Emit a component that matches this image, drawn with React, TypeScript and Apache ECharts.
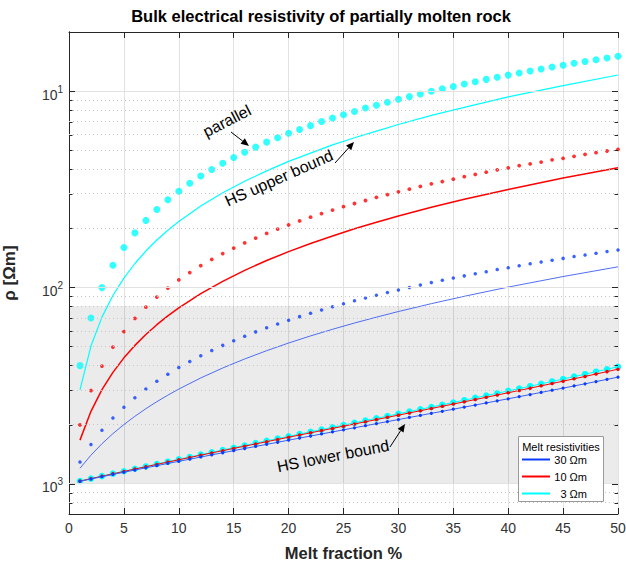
import React, { useEffect, useRef } from 'react';
import * as echarts from 'echarts';

// ---------- data ----------
const meltFraction = [1, 2, 3, 4, 5, 6, 7, 8, 9, 10, 11, 12, 13, 14, 15, 16, 17, 18, 19, 20, 21, 22, 23, 24, 25, 26, 27, 28, 29, 30, 31, 32, 33, 34, 35, 36, 37, 38, 39, 40, 41, 42, 43, 44, 45, 46, 47, 48, 49, 50];

const parallel30 = [775.2, 632.9, 534.8, 463.0, 408.2, 365.0, 330.0, 301.2, 277.0, 256.4, 238.7, 223.2, 209.6, 197.6, 186.9, 177.3, 168.6, 160.8, 153.6, 147.1, 141.0, 135.5, 130.4, 125.6, 121.2, 117.1, 113.3, 109.6, 106.3, 103.1, 100.1, 97.3, 94.6, 92.1, 89.7, 87.4, 85.3, 83.2, 81.2, 79.4, 77.6, 75.9, 74.2, 72.7, 71.2, 69.7, 68.4, 67.0, 65.7, 64.5];
const parallel10 = [502.5, 335.6, 251.9, 201.6, 168.1, 144.1, 126.1, 112.1, 100.9, 91.7, 84.1, 77.6, 72.1, 67.3, 63.1, 59.4, 56.1, 53.1, 50.5, 48.1, 45.9, 43.9, 42.1, 40.4, 38.8, 37.4, 36.1, 34.8, 33.7, 32.6, 31.6, 30.6, 29.7, 28.9, 28.1, 27.3, 26.6, 25.9, 25.2, 24.6, 24.0, 23.5, 23.0, 22.4, 22.0, 21.5, 21.0, 20.6, 20.2, 19.8];
const parallel3 = [250.6, 143.3, 100.3, 77.2, 62.7, 52.8, 45.6, 40.1, 35.8, 32.4, 29.5, 27.1, 25.1, 23.3, 21.8, 20.5, 19.3, 18.2, 17.3, 16.4, 15.7, 15.0, 14.3, 13.7, 13.2, 12.7, 12.2, 11.8, 11.4, 11.0, 10.67, 10.34, 10.03, 9.74, 9.47, 9.20, 8.96, 8.72, 8.50, 8.29, 8.09, 7.90, 7.72, 7.54, 7.38, 7.22, 7.07, 6.92, 6.78, 6.64];

const hsLower30 = [973.3, 947.5, 922.6, 898.6, 875.3, 852.9, 831.1, 810.0, 789.7, 769.8, 750.7, 732.0, 713.9, 696.4, 679.4, 662.8, 646.7, 631.0, 615.8, 600.9, 586.3, 572.4, 558.7, 545.3, 532.2, 519.5, 507.1, 494.9, 483.2, 471.7, 460.4, 449.4, 438.6, 428.3, 417.8, 407.7, 397.9, 388.2, 378.8, 369.6, 360.6, 351.7, 343.1, 334.5, 326.2, 318.0, 310.1, 302.1, 294.4, 286.8];
const hsLower10 = [971.4, 943.9, 917.5, 891.9, 867.3, 843.5, 820.6, 798.4, 776.9, 756.2, 736.0, 716.6, 697.7, 679.5, 661.7, 644.5, 627.8, 611.6, 595.8, 580.5, 565.6, 551.1, 537.0, 523.3, 509.9, 496.9, 484.2, 471.8, 459.7, 447.9, 436.5, 425.3, 414.3, 403.6, 393.2, 383.0, 373.0, 363.2, 353.7, 344.4, 335.2, 326.3, 317.6, 309.0, 300.6, 292.4, 284.4, 276.5, 268.8, 261.2];
const hsLower3 = [970.9, 942.9, 915.9, 889.9, 864.9, 840.7, 817.4, 794.9, 773.1, 752.1, 731.7, 712.0, 692.9, 674.4, 656.5, 639.1, 622.2, 605.9, 589.9, 574.5, 559.5, 544.9, 530.6, 516.8, 503.3, 490.2, 477.4, 465.0, 452.8, 441.0, 429.4, 418.2, 407.2, 396.5, 386.0, 375.8, 365.8, 356.0, 346.4, 337.0, 327.9, 318.9, 310.2, 301.6, 293.2, 285.0, 277.0, 269.0, 261.4, 253.7];

const hsUpperFraction = [1, 2, 3, 4, 5, 6, 7, 8, 9, 10, 12, 14, 16, 18, 20, 22, 24, 26, 28, 30, 33, 36, 40, 45, 50];
const hsUpper30 = [835.1, 716.3, 626.6, 556.5, 500.3, 454.0, 415.3, 382.5, 354.4, 329.9, 289.5, 257.6, 231.7, 210.3, 192.2, 176.8, 163.6, 152.0, 141.9, 132.8, 121.1, 111.1, 99.7, 88.1, 78.6];
const hsUpper10 = [600.4, 428.3, 332.3, 271.1, 228.7, 197.6, 173.8, 155.0, 139.8, 127.2, 107.7, 93.2, 81.9, 73.0, 65.8, 59.8, 54.7, 50.3, 46.6, 43.3, 39.1, 35.6, 31.7, 27.7, 24.6];
const hsUpper3 = [333.0, 199.2, 141.8, 110.0, 89.7, 75.6, 65.3, 57.4, 51.2, 46.2, 38.5, 33.0, 28.8, 25.5, 22.8, 20.7, 18.8, 17.3, 16.0, 14.8, 13.3, 12.1, 10.7, 9.38, 8.28];

const meltLabels = ['30 Ωm', '10 Ωm', '3 Ωm'];
const yMajorTicks = [10, 100, 1000];
const yMinorTicks = [11.11, 12.5, 14.29, 16.67, 20, 25, 33.33, 50, 111.1, 125, 142.9, 166.7, 200, 250, 333.3, 500, 1111, 1250];
const shadeRange = [125, 1000];
const yRange = [5, 1428.57];
const xRange = [0, 50];

// ---------- style ----------
const FONT = '"Liberation Sans", Arial, Helvetica, sans-serif';
const BLUE = '#0a3cff';
const BLUE_LINE = '#3b5ff5';
const RED = '#ff0000';
const CYAN = '#00ffff';
const AXIS = '#262626';
const TICK_TEXT = '#333333';
const GRID = '#e2e2e2';

const pair = (xs: number[], ys: number[]) => xs.map((x, i) => [x, ys[i]]);

function arrow(x1: number, y1: number, x2: number, y2: number) {
  const dx = x2 - x1, dy = y2 - y1;
  const len = Math.sqrt(dx * dx + dy * dy);
  const ux = dx / len, uy = dy / len;
  const hl = 8, hw = 3.5;
  const bx = x2 - ux * hl, by = y2 - uy * hl;
  return [
    { type: 'line', shape: { x1, y1, x2: bx, y2: by }, style: { stroke: '#000', lineWidth: 1 }, z: 50 },
    {
      type: 'polygon',
      shape: { points: [[x2, y2], [bx - uy * hw, by + ux * hw], [bx + uy * hw, by - ux * hw]] },
      style: { fill: '#000' },
      z: 50,
    },
  ];
}

function label(text: string, x: number, y: number, deg: number, size = 16) {
  return {
    type: 'text',
    x,
    y,
    rotation: (deg * Math.PI) / 180,
    z: 50,
    style: { text, fill: '#000', font: `${size}px ${FONT}`, align: 'center', verticalAlign: 'middle' },
  };
}

export default function App() {
  const ref = useRef<HTMLDivElement>(null);

  useEffect(() => {
    document.body.style.margin = '0';
    if (!ref.current) return;
    const chart = echarts.init(ref.current, undefined, { renderer: 'svg' });

    const yLabelFormatter = (v: number) => {
      const e = Math.log10(v);
      const r = Math.round(e);
      if (Math.abs(e - r) > 1e-6) return '';
      return `{b|10}{s|${r}}`;
    };

    const yAxisBase = {
      type: 'log',
      logBase: 10,
      inverse: true,
      min: yRange[0],
      max: yRange[1],
      axisLine: { show: true, lineStyle: { color: AXIS, width: 1 } },
      axisTick: { show: false },
      minorTick: { show: false },
      splitLine: { show: false },
      minorSplitLine: { show: false },
    };

    const option: any = {
      animation: false,
      backgroundColor: '#ffffff',
      textStyle: { fontFamily: FONT },
      grid: { left: 69, right: 8, top: 32, bottom: 48, containLabel: false, outerBoundsMode: 'none' },
      xAxis: [
        {
          type: 'value',
          min: xRange[0],
          max: xRange[1],
          interval: 5,
          name: 'Melt fraction %',
          nameLocation: 'middle',
          nameGap: 30,
          nameTextStyle: { fontWeight: 'bold', fontSize: 16.5, color: '#262626', fontFamily: FONT },
          axisLine: { show: true, lineStyle: { color: AXIS, width: 1 } },
          axisTick: { show: true, inside: true, length: 6, lineStyle: { color: AXIS } },
          axisLabel: { fontSize: 14, color: TICK_TEXT, margin: 7, fontFamily: FONT },
          splitLine: { show: true, lineStyle: { color: GRID, width: 1 } },
          minorTick: { show: false },
          minorSplitLine: { show: false },
        },
        {
          type: 'value',
          position: 'top',
          min: xRange[0],
          max: xRange[1],
          interval: 5,
          axisLine: { show: true, lineStyle: { color: AXIS, width: 1 } },
          axisTick: { show: true, inside: true, length: 6, lineStyle: { color: AXIS } },
          axisLabel: { show: false },
          splitLine: { show: false },
        },
      ],
      yAxis: [
        {
          ...yAxisBase,
          name: 'ρ [Ωm]',
          nameLocation: 'middle',
          nameGap: 51,
          nameTextStyle: { fontWeight: 'bold', fontSize: 17, color: '#262626', fontFamily: FONT },
          axisLabel: {
            formatter: yLabelFormatter,
            showMinLabel: false,
            showMaxLabel: false,
            margin: 6,
            rich: {
              b: { fontSize: 14, color: TICK_TEXT, fontFamily: FONT, lineHeight: 14, padding: [7, 0, 0, 0] },
              s: { fontSize: 10, color: TICK_TEXT, fontFamily: FONT, lineHeight: 10, verticalAlign: 'top' },
            },
          },
        },
        {
          ...yAxisBase,
          position: 'right',
          axisLabel: { show: false },
        },
      ],
      series: [
        {
          name: 'helper',
          type: 'line',
          data: [],
          z: 1,
          silent: true,
          markArea: {
            silent: true,
            itemStyle: { color: 'rgba(0,0,0,0.08)' },
            data: [[{ yAxis: shadeRange[0] }, { yAxis: shadeRange[1] }]],
          },
          markLine: {
            silent: true,
            symbol: 'none',
            label: { show: false },
            data: [
              ...yMinorTicks.map((v) => ({ yAxis: v, lineStyle: { type: [1, 3], color: '#c4c4c4', width: 1 } })),
              ...yMajorTicks.map((v) => ({ yAxis: v, lineStyle: { type: 'solid', color: GRID, width: 1 } })),
            ],
          },
        },
        // HS lower bound (lines with markers)
        {
          name: 'hsLower3', type: 'line', z: 3, data: pair(meltFraction, hsLower3),
          symbol: 'circle', symbolSize: 6.5, showSymbol: true,
          itemStyle: { color: CYAN }, lineStyle: { color: CYAN, width: 1 },
        },
        {
          name: 'hsLower10', type: 'line', z: 4, data: pair(meltFraction, hsLower10),
          symbol: 'circle', symbolSize: 3.5, showSymbol: true,
          itemStyle: { color: RED }, lineStyle: { color: RED, width: 1 },
        },
        {
          name: 'hsLower30', type: 'line', z: 5, data: pair(meltFraction, hsLower30),
          symbol: 'circle', symbolSize: 3.2, showSymbol: true,
          itemStyle: { color: BLUE }, lineStyle: { color: BLUE_LINE, width: 1 },
        },
        // HS upper bound (solid lines)
        {
          name: 'hsUpper30', type: 'line', z: 3, data: pair(hsUpperFraction, hsUpper30),
          showSymbol: false, smooth: false,
          lineStyle: { color: BLUE_LINE, width: 0.9 },
        },
        {
          name: 'hsUpper10', type: 'line', z: 3, data: pair(hsUpperFraction, hsUpper10),
          showSymbol: false, smooth: false,
          lineStyle: { color: RED, width: 1.5 },
        },
        {
          name: 'hsUpper3', type: 'line', z: 3, data: pair(hsUpperFraction, hsUpper3),
          showSymbol: false, smooth: false,
          lineStyle: { color: CYAN, width: 1.2 },
        },
        // parallel (dots)
        {
          name: 'parallel30', type: 'scatter', z: 4, data: pair(meltFraction, parallel30),
          symbol: 'circle', symbolSize: 3.5, itemStyle: { color: BLUE },
        },
        {
          name: 'parallel10', type: 'scatter', z: 4, data: pair(meltFraction, parallel10),
          symbol: 'circle', symbolSize: 3.8, itemStyle: { color: RED },
        },
        {
          name: 'parallel3', type: 'scatter', z: 4, data: pair(meltFraction, parallel3),
          symbol: 'circle', symbolSize: 7, itemStyle: { color: CYAN },
        },
      ],
    };

    chart.setOption(option);

    // ticks on left / right axes, positioned through the y scale
    const xl = chart.convertToPixel({ xAxisIndex: 0 }, xRange[0]) as number;
    const xr = chart.convertToPixel({ xAxisIndex: 0 }, xRange[1]) as number;
    const ticks: any[] = [];
    const addTick = (v: number, len: number) => {
      const y = Math.round(chart.convertToPixel({ yAxisIndex: 0 }, v) as number) + 0.5;
      ticks.push({ type: 'line', shape: { x1: xl, y1: y, x2: xl + len, y2: y }, style: { stroke: AXIS, lineWidth: 1 }, z: 40 });
      ticks.push({ type: 'line', shape: { x1: xr - len, y1: y, x2: xr, y2: y }, style: { stroke: AXIS, lineWidth: 1 }, z: 40 });
    };
    yMinorTicks.forEach((v) => addTick(v, 3.5));
    yMajorTicks.forEach((v) => addTick(v, 6));

    const legendColors = [BLUE, RED, CYAN];
    const legendItems: any[] = [
      { type: 'rect', shape: { x: 518.5, y: 436.5, width: 85, height: 65 }, style: { fill: '#fff', stroke: '#9a9a9a', lineWidth: 1 }, z: 60 },
      { type: 'text', x: 561, y: 447, z: 61, style: { text: 'Melt resistivities', fill: '#000', font: `11px ${FONT}`, align: 'center', verticalAlign: 'middle' } },
    ];
    meltLabels.forEach((t, i) => {
      const y = 459.5 + i * 17;
      legendItems.push({ type: 'line', shape: { x1: 522, y1: y, x2: 550, y2: y }, style: { stroke: legendColors[i], lineWidth: 2 }, z: 61 });
      legendItems.push({ type: 'text', x: 587, y, z: 61, style: { text: t, fill: '#000', font: `11px ${FONT}`, align: 'right', verticalAlign: 'middle' } });
    });

    const annotations: any[] = [
      label('parallel', 227, 121, 27),
      ...arrow(231, 132, 249, 146),
      label('HS upper bound', 279, 178, 24),
      ...arrow(335, 163, 354, 142),
      label('HS lower bound', 333, 456, 11),
      ...arrow(390, 447, 405, 424),
      {
        type: 'text', x: 321, y: 16, z: 50,
        style: { text: 'Bulk electrical resistivity of partially molten rock', fill: '#000', font: `bold 16.5px ${FONT}`, align: 'center', verticalAlign: 'middle' },
      },
    ];

    chart.setOption({ graphic: [...ticks, ...legendItems, ...annotations] });

    return () => chart.dispose();
  }, []);

  return <div ref={ref} style={{ width: 626, height: 562 }} />;
}
